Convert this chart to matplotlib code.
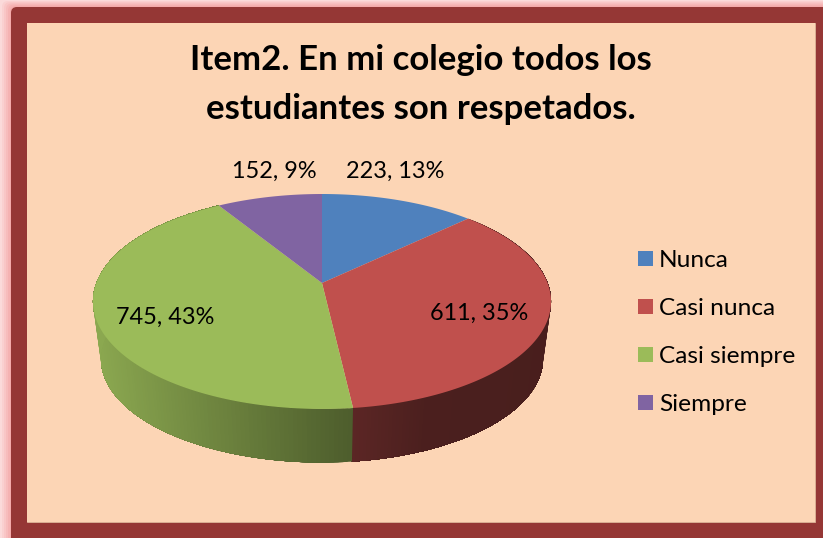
import matplotlib
matplotlib.use('Agg')

import matplotlib.pyplot as plt
import matplotlib.patches as patches
import numpy as np

WIDTH = 823
HEIGHT = 538

categories = ['Nunca', 'Casi nunca', 'Casi siempre', 'Siempre']
values = [223, 611, 745, 152]
percents = ['13%', '35%', '43%', '9%']
colors = ['#4F81BD', '#C0504D', '#9BBB59', '#8064A2']

# pie geometry in pixels, the tilt is a perspective so the apex is off centre
APEX_X = 322
APEX_Y = 283
SCALE_X = 225.6
SCALE_Y = 104.3
TILT = 0.172
WALL_SCALE = 0.965
WALL_DROP = 58

label_pos = [(395, 171), (479, 313), (165, 317), (274, 171)]

plt.rcParams['font.family'] = ['Lato', 'DejaVu Sans']

fig = plt.figure(figsize=(WIDTH / 100, HEIGHT / 100), dpi=100)
ax = fig.add_axes([0, 0, 1, 1])
ax.set_xlim(0, WIDTH)
ax.set_ylim(HEIGHT, 0)
ax.axis('off')


def top_rim(theta):
    # theta clockwise from 12 o'clock
    x = np.sin(theta)
    y = np.cos(theta)
    w = 1 + TILT * y
    return APEX_X + SCALE_X * x / w, APEX_Y - SCALE_Y * y / w


def low_rim(theta):
    x, y = top_rim(theta)
    return APEX_X + (x - APEX_X) * WALL_SCALE, APEX_Y + (y - APEX_Y) * WALL_SCALE + WALL_DROP


def shade(c, k):
    return tuple(np.array(matplotlib.colors.to_rgb(c)) * k)


# outer glow
ax.add_patch(patches.Rectangle((0, 0), WIDTH, HEIGHT, facecolor='#FBDADA', edgecolor='none'))
for i, c in enumerate(['#FAD0D0', '#F9C6C6', '#F7BCBC', '#F5B2B2', '#F4AAAA']):
    ax.add_patch(patches.FancyBboxPatch(
        (2 + 2 * i + 6, 1 + 1.2 * i + 6), WIDTH, HEIGHT, boxstyle='round,pad=6',
        facecolor=c, edgecolor='none'))

# frame and panel
ax.add_patch(patches.FancyBboxPatch(
    (17, 13), WIDTH, HEIGHT, boxstyle='round,pad=6',
    facecolor='#953735', edgecolor='none'))
ax.add_patch(patches.Rectangle((27, 23), 788, 499, facecolor='#FCD5B5', edgecolor='#DDB598', linewidth=0.6))
ax.add_patch(patches.Rectangle((27, 23), 788, 498.5, facecolor='#FCD5B5', edgecolor='none'))

fractions = np.array(values) / sum(values)
ends = np.cumsum(fractions) * 2 * np.pi
starts = ends - fractions * 2 * np.pi

# side wall, only the two front slices show it
for i in [1, 2]:
    th = np.linspace(starts[i], ends[i], 160)
    for j in range(len(th) - 1):
        rest = th[j:]
        xt, yt = top_rim(rest)
        xl, yl = low_rim(rest)
        if i == 1:
            k = np.interp(xt[0], [353, 430, 551], [0.48, 0.39, 0.38])
        else:
            k = np.interp(xt[0], [93, 353], [0.90, 0.50])
        ax.fill(np.r_[xt, xl[::-1]], np.r_[yt, yl[::-1]], facecolor=shade(colors[i], k), edgecolor='none')

# top face
for i in range(len(values)):
    th = np.linspace(starts[i], ends[i], 200)
    xs, ys = top_rim(th)
    ax.fill(np.r_[APEX_X, xs], np.r_[APEX_Y, ys], facecolor=colors[i], edgecolor='none')

for v, p, pos in zip(values, percents, label_pos):
    ax.text(pos[0], pos[1], f'{v}, {p}', ha='center', va='center', fontsize=16.9, color='black')

ax.text(421, 60, 'Item2. En mi colegio todos los', ha='center', va='center',
        fontsize=25, fontweight='bold', color='black')
ax.text(421, 109, 'estudiantes son respetados.', ha='center', va='center',
        fontsize=25, fontweight='bold', color='black')

# Legend
legend_elements = [patches.Patch(facecolor=c, edgecolor='none', label=n)
                   for c, n in zip(colors, categories)]
ax.legend(handles=legend_elements, loc='upper left', bbox_to_anchor=(638 / WIDTH, 1 - 250 / HEIGHT),
          frameon=False, fontsize=17.6, handlelength=0.617, handleheight=0.57, handletextpad=0.25,
          labelspacing=1.11, borderpad=0, borderaxespad=0, labelcolor='black')

fig.savefig('out.png', dpi=100)
